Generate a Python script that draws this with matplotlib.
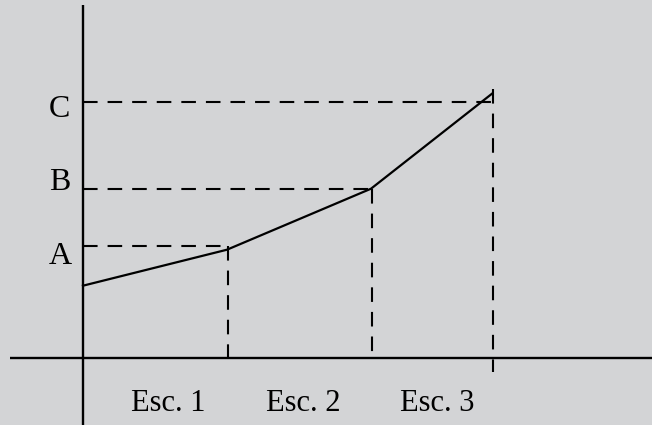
import matplotlib.pyplot as plt

# ────────────────────────── Data ────────────────────────── #
# Scenario boundaries on the x axis and the curve's values there
x_points = [0.0, 1.0, 2.0, 2.84]
y_points = [0.72, 1.08, 1.69, 2.64]

# Reference levels (horizontal dashed guides) and their labels
level_labels = ["A", "B", "C"]
level_values = [1.12, 1.69, 2.56]
level_x_ends = [1.0, 2.0, 2.85]
guide_tops = [1.12, 1.69, 2.69]
guide_bottom = [0.0, 0.0, -0.14]

scenario_labels = ["Esc. 1", "Esc. 2", "Esc. 3"]
scenario_centers = [0.59, 1.53, 2.46]

# ────────────────────────── Style ────────────────────────── #
BG = "#d3d4d6"
plt.rcParams["font.family"] = ["Liberation Serif", "DejaVu Serif"]

fig = plt.figure(figsize=(6.52, 4.25), dpi=100, facecolor=BG)
ax = fig.add_axes([0, 0, 1, 1])
ax.set_facecolor(BG)
ax.set_xlim(-0.576, 3.951)
ax.set_ylim(-0.673, 3.577)
ax.axis("off")

# axes drawn as plain lines crossing at the origin
ax.plot([-0.507, 3.951], [0, 0], color="black", lw=1.7, solid_capstyle="butt")
ax.plot([0, 0], [-0.673, 3.527], color="black", lw=1.7, solid_capstyle="butt")

dash = (7, 4.8)
for lab, lv, xe in zip(level_labels, level_values, level_x_ends):
    ln, = ax.plot([0, xe], [lv, lv], color="black", lw=1.5)
    ln.set_dashes(dash)

for xv, top, bot in zip(x_points[1:], guide_tops, guide_bottom):
    ln, = ax.plot([xv + 0.005, xv + 0.005], [top, bot], color="black", lw=1.5)
    ln.set_dashes(dash)

ax.plot(x_points, y_points, color="black", lw=1.6)

# level labels sit slightly off their guides, as in the source drawing
label_baselines = [0.937, 1.677, 2.41]
for lab, yb in zip(level_labels, label_baselines):
    ax.text(-0.16, yb, lab, ha="center", va="baseline", fontsize=23)

for lab, xc in zip(scenario_labels, scenario_centers):
    ax.text(xc, -0.53, lab, ha="center", va="baseline", fontsize=22)

fig.savefig("out.png", dpi=100, facecolor=BG)
